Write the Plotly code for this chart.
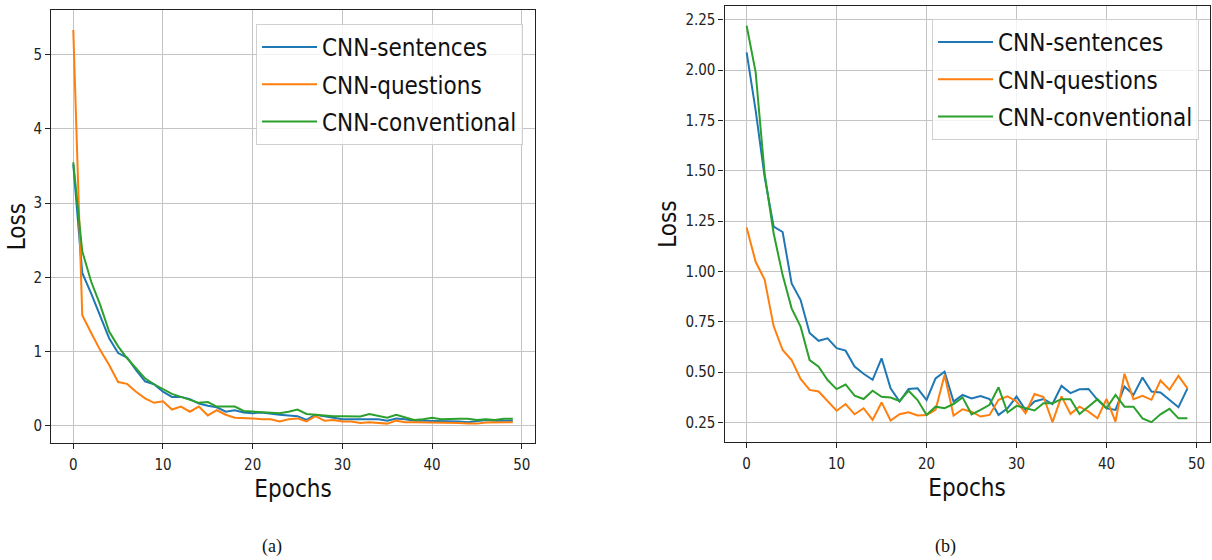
import plotly.graph_objects as go

epochs = list(range(50))
series_names = ["CNN-sentences", "CNN-questions", "CNN-conventional"]
colors = ["#1f77b4", "#ff7f0e", "#2ca02c"]

# (a) left panel
a_sentences = [3.52, 2.06, 1.78, 1.49, 1.18, 0.98, 0.92, 0.75, 0.60, 0.56,
               0.46, 0.39, 0.39, 0.36, 0.30, 0.27, 0.25, 0.19, 0.21, 0.18,
               0.17, 0.18, 0.16, 0.15, 0.14, 0.13, 0.08, 0.15, 0.13, 0.11,
               0.09, 0.09, 0.09, 0.09, 0.09, 0.07, 0.10, 0.09, 0.07, 0.07,
               0.07, 0.07, 0.07, 0.06, 0.05, 0.07, 0.08, 0.07, 0.07, 0.07]
a_questions = [5.33, 1.49, 1.25, 1.02, 0.82, 0.59, 0.565, 0.46, 0.37, 0.31,
               0.33, 0.22, 0.26, 0.19, 0.26, 0.14, 0.21, 0.15, 0.11, 0.11,
               0.10, 0.09, 0.09, 0.06, 0.09, 0.10, 0.06, 0.13, 0.07, 0.08,
               0.06, 0.06, 0.04, 0.05, 0.04, 0.03, 0.07, 0.05, 0.05, 0.05,
               0.05, 0.05, 0.05, 0.04, 0.03, 0.03, 0.045, 0.045, 0.05, 0.05]
a_conventional = [3.55, 2.35, 1.94, 1.63, 1.27, 1.07, 0.91, 0.77, 0.64, 0.56,
                  0.49, 0.43, 0.39, 0.35, 0.31, 0.32, 0.26, 0.26, 0.26, 0.20,
                  0.19, 0.18, 0.18, 0.17, 0.19, 0.22, 0.16, 0.15, 0.13, 0.13,
                  0.13, 0.13, 0.125, 0.16, 0.13, 0.11, 0.15, 0.12, 0.08, 0.09,
                  0.11, 0.09, 0.095, 0.095, 0.095, 0.08, 0.09, 0.08, 0.095, 0.095]

# (b) right panel
b_sentences = [2.088, 1.80, 1.47, 1.223, 1.196, 0.941, 0.858, 0.695, 0.656, 0.668,
               0.619, 0.607, 0.528, 0.492, 0.462, 0.569, 0.420, 0.354, 0.417, 0.42,
               0.362, 0.469, 0.503, 0.354, 0.387, 0.37, 0.382, 0.367, 0.288, 0.321,
               0.379, 0.313, 0.355, 0.367, 0.342, 0.432, 0.396, 0.415, 0.417, 0.363,
               0.321, 0.313, 0.429, 0.387, 0.474, 0.404, 0.399, 0.363, 0.326, 0.42]
b_questions = [1.218, 1.048, 0.96, 0.729, 0.61, 0.56, 0.467, 0.412, 0.404, 0.354,
               0.309, 0.342, 0.291, 0.321, 0.263, 0.350, 0.26, 0.291, 0.301, 0.285,
               0.288, 0.313, 0.486, 0.285, 0.316, 0.304, 0.28, 0.288, 0.363, 0.38,
               0.355, 0.296, 0.392, 0.377, 0.252, 0.38, 0.293, 0.329, 0.304, 0.271,
               0.367, 0.255, 0.492, 0.366, 0.383, 0.363, 0.459, 0.413, 0.482, 0.42]
b_conventional = [2.22, 1.99, 1.486, 1.19, 0.982, 0.817, 0.726, 0.56, 0.527, 0.461,
                  0.416, 0.439, 0.384, 0.367, 0.408, 0.378, 0.374, 0.357, 0.408, 0.362,
                  0.288, 0.329, 0.321, 0.342, 0.375, 0.291, 0.313, 0.338, 0.425, 0.30,
                  0.333, 0.321, 0.31, 0.346, 0.346, 0.366, 0.366, 0.293, 0.329, 0.366,
                  0.321, 0.387, 0.329, 0.329, 0.271, 0.252, 0.291, 0.318, 0.271, 0.271]

x_ticks = [0, 10, 20, 30, 40, 50]
a_y_ticks = [0, 1, 2, 3, 4, 5]
b_y_ticks = [0.25, 0.50, 0.75, 1.00, 1.25, 1.50, 1.75, 2.00, 2.25]
captions = ["(a)", "(b)"]

FONT = "DejaVu Sans Condensed, DejaVu Sans, sans-serif"

fig = go.Figure()
for name, col, ys in zip(series_names, colors, [a_sentences, a_questions, a_conventional]):
    fig.add_trace(go.Scatter(x=epochs, y=ys, mode="lines", name=name,
                             line=dict(color=col, width=2), xaxis="x", yaxis="y",
                             legend="legend", legendgroup="a" + name))
for name, col, ys in zip(series_names, colors, [b_sentences, b_questions, b_conventional]):
    fig.add_trace(go.Scatter(x=epochs, y=ys, mode="lines", name=name,
                             line=dict(color=col, width=2), xaxis="x2", yaxis="y2",
                             legend="legend2", legendgroup="b" + name))

axis_common = dict(showline=True, linecolor="#222", linewidth=1.3, mirror=True,
                   showgrid=True, gridcolor="#c4c4c4", gridwidth=1,
                   ticks="outside", ticklen=5, tickwidth=1, tickcolor="#222",
                   tickfont=dict(family=FONT, size=15, color="#222"),
                   zeroline=False)

W, H = 1212, 560
def px(x0, x1):
    return [x0 / W, x1 / W]
def py(y_top, y_bot):
    return [1 - y_bot / H, 1 - y_top / H]

title_font = dict(family=FONT, size=24, color="#111")
legend_style = dict(xanchor="right", yanchor="top",
                    bgcolor="rgba(255,255,255,0.8)", bordercolor="#d0d0d0", borderwidth=1,
                    font=dict(family=FONT, size=24, color="#111"),
                    tracegroupgap=3, traceorder="grouped", itemwidth=55)

fig.update_layout(
    width=W, height=H, margin=dict(l=0, r=0, t=0, b=0),
    paper_bgcolor="white", plot_bgcolor="white",
    showlegend=True,
    xaxis=dict(domain=px(51.3, 534.8), range=[-2.45, 51.45], anchor="y",
               tickvals=x_ticks, ticklabelstandoff=3,
               title=dict(text="Epochs", font=title_font, standoff=6),
               **axis_common),
    yaxis=dict(domain=py(10, 443.3), range=[-0.235, 5.6], anchor="x",
               tickvals=a_y_ticks, title=dict(text="Loss", font=title_font, standoff=1),
               **axis_common),
    xaxis2=dict(domain=px(724.6, 1209.5), range=[-2.45, 51.45], anchor="y2",
                tickvals=x_ticks, ticklabelstandoff=3,
                title=dict(text="Epochs", font=title_font, standoff=6),
                **axis_common),
    yaxis2=dict(domain=py(6, 442.3), range=[0.152, 2.318], anchor="x2",
                tickvals=b_y_ticks, tickformat=".2f",
                title=dict(text="Loss", font=title_font, standoff=1),
                **axis_common),
    legend=dict(x=523 / W, y=1 - 24 / H, **legend_style),
    legend2=dict(x=1199 / W, y=1 - 19 / H, **legend_style),
)

for cap, xc in zip(captions, [272, 945]):
    fig.add_annotation(text=cap, x=xc / W, y=1 - 546 / H, xref="paper", yref="paper",
                       showarrow=False, xanchor="center", yanchor="middle",
                       font=dict(family="Liberation Serif, Times New Roman, serif", size=18, color="#111"))

fig.write_html("out.html", config={"displayModeBar": False},
               post_script="document.body.style.margin='0';document.body.style.overflow='hidden';")
